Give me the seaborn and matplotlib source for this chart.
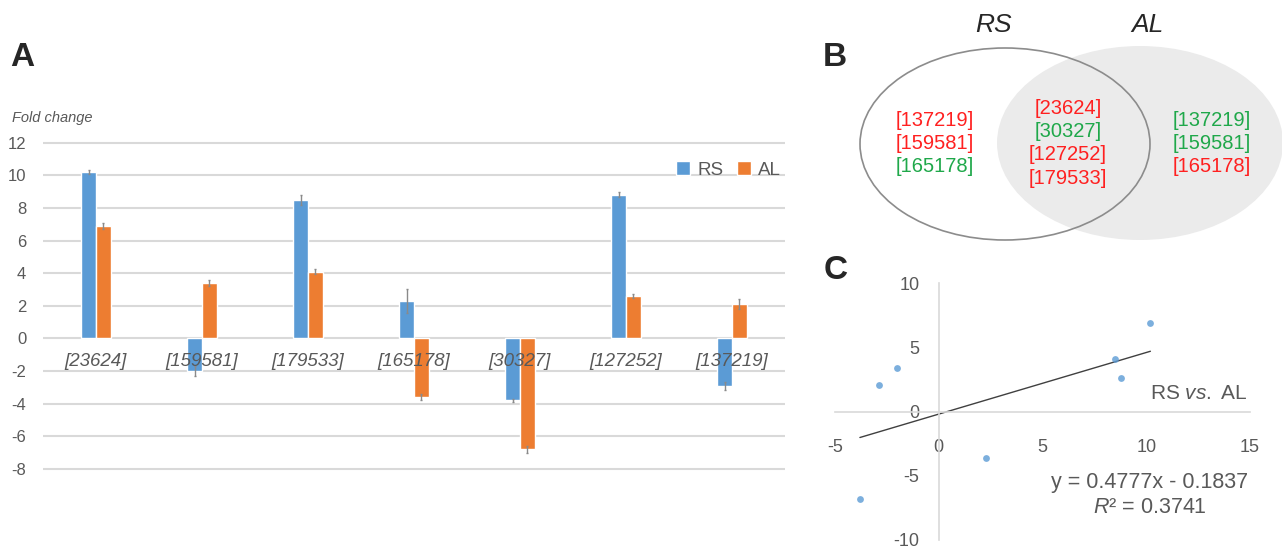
import numpy as np
import pandas as pd
import matplotlib
matplotlib.use("Agg")
import matplotlib.pyplot as plt
import seaborn as sns
from matplotlib.patches import Ellipse

# ---------------- data ----------------
genes = ["[23624]", "[159581]", "[179533]", "[165178]", "[30327]", "[127252]", "[137219]"]
series = ["RS", "AL"]
rs_fc = [10.2, -2.0, 8.5, 2.3, -3.8, 8.8, -2.9]
al_fc = [6.9, 3.4, 4.1, -3.6, -6.8, 2.6, 2.1]
rs_err = [0.1, 0.3, 0.3, 0.75, 0.1, 0.15, 0.25]
al_err = [0.2, 0.2, 0.15, 0.2, 0.2, 0.1, 0.3]
a_yticks = [-8, -6, -4, -2, 0, 2, 4, 6, 8, 10, 12]

venn_rs_only = ["[137219]", "[159581]", "[165178]"]
venn_rs_only_col = ["red", "red", "green"]
venn_both = ["[23624]", "[30327]", "[127252]", "[179533]"]
venn_both_col = ["red", "green", "red", "red"]
venn_al_only = ["[137219]", "[159581]", "[165178]"]
venn_al_only_col = ["green", "green", "red"]

c_xticks = [-5, 0, 5, 10, 15]
c_yticks = [-10, -5, 0, 5, 10]
fit_text = "y = 0.4777x - 0.1837"
r2_text = r"$\mathit{R}$² = 0.3741"

# ---------------- style ----------------
sns.set_theme(style="white")
plt.rcParams["font.family"] = ["Liberation Sans", "DejaVu Sans"]
plt.rcParams["mathtext.fontset"] = "custom"
plt.rcParams["mathtext.rm"] = "Liberation Sans"
plt.rcParams["mathtext.it"] = "Liberation Sans:italic"

BLUE = "#5b9bd5"
ORANGE = "#ed7d31"
GRAY = "#595959"
GRID = "#d9d9d9"
RED = "#ff2020"
GREEN = "#1fa84a"
cmap = {"red": RED, "green": GREEN}

W, H = 1282, 550
fig = plt.figure(figsize=(W / 100, H / 100), dpi=100)

def fx(px):
    return px / W

def fy(py):
    return 1 - py / H

# ---------------- panel A ----------------
ax = fig.add_axes([fx(43), (H - 472.3) / H, (785 - 43) / W, 333 / H])
df = pd.DataFrame({
    "gene": genes * 2,
    "series": [series[0]] * len(genes) + [series[1]] * len(genes),
    "fc": rs_fc + al_fc,
})
sns.barplot(data=df, x="gene", y="fc", hue="series", order=genes, hue_order=series,
            palette=[BLUE, ORANGE], width=0.28, errorbar=None, saturation=1, ax=ax,
            zorder=2)
for cont, vals, errs in zip(ax.containers, [rs_fc, al_fc], [rs_err, al_err]):
    for bar, v, e in zip(cont, vals, errs):
        ax.errorbar(bar.get_x() + bar.get_width() / 2, v, yerr=e, fmt="none",
                    ecolor="#8a8a8a", elinewidth=1, capsize=1, capthick=1, zorder=3)
ax.set_xlim(-0.5, 6.5)
ax.set_ylim(-8.2, 12.2)
ax.set_yticks(a_yticks)
ax.set_yticklabels([str(t) for t in a_yticks])
ax.set_xticks([])
ax.set_xlabel("")
ax.set_ylabel("")
ax.yaxis.grid(True, color=GRID, lw=1.5)
ax.set_axisbelow(True)
for s in ax.spines.values():
    s.set_visible(False)
ax.tick_params(axis="y", length=0, pad=12, labelsize=12, labelcolor=GRAY)
for i, g in enumerate(genes):
    ax.text(i, -1.4, g, ha="center", va="center", fontsize=13.5, style="italic",
            color=GRAY, zorder=4)
handles, labels = ax.get_legend_handles_labels()
leg = ax.legend(handles, labels, ncol=2, frameon=False, loc="center right",
                bbox_to_anchor=(1.005, 0.908), handlelength=0.75, handleheight=0.75,
                handletextpad=0.4, columnspacing=0.7, fontsize=13.5, borderaxespad=0)
for t in leg.get_texts():
    t.set_color(GRAY)

fig.text(fx(12), fy(118), "Fold change", fontsize=10.5, style="italic", color=GRAY,
         ha="left", va="center")
fig.text(fx(22), fy(58), "A", fontsize=24, fontweight="bold", ha="center", va="center")

# ---------------- panel B ----------------
axb = fig.add_axes([fx(820), 1 - 250 / H, 462 / W, 250 / H])
axb.set_xlim(820, 1282)
axb.set_ylim(250, 0)
axb.axis("off")
axb.add_patch(Ellipse((1140, 143), 286, 194, fc="#ebebeb", ec="none", clip_on=False))
axb.add_patch(Ellipse((1005, 144), 290, 192, fc="none", ec="#8c8c8c", lw=1.2,
                      clip_on=False))
axb.text(993, 25, "RS", fontsize=19, style="italic", ha="center", va="center")
axb.text(1147, 25, "AL", fontsize=19, style="italic", ha="center", va="center")
for i, (t, c) in enumerate(zip(venn_rs_only, venn_rs_only_col)):
    axb.text(935, 120 + i * 23.5, t, color=cmap[c], fontsize=14.5, ha="center", va="center")
for i, (t, c) in enumerate(zip(venn_both, venn_both_col)):
    axb.text(1068, 108 + i * 23.5, t, color=cmap[c], fontsize=14.5, ha="center", va="center")
for i, (t, c) in enumerate(zip(venn_al_only, venn_al_only_col)):
    axb.text(1212, 120 + i * 23.5, t, color=cmap[c], fontsize=14.5, ha="center", va="center")
fig.text(fx(835), fy(58), "B", fontsize=24, fontweight="bold", ha="center", va="center")

# ---------------- panel C ----------------
axc = fig.add_axes([fx(835), (H - 540) / H, (1250 - 835) / W, (540 - 283) / H])
sns.regplot(x=np.array(rs_fc), y=np.array(al_fc), ci=None, ax=axc, color=BLUE,
            scatter_kws=dict(s=24, linewidths=0, zorder=3),
            line_kws=dict(color="#404040", lw=1, zorder=2))
axc.set_xlim(-5, 15)
axc.set_ylim(-10, 10)
axc.set_xticks(c_xticks)
axc.set_yticks(c_yticks)
axc.set_xticklabels([str(t) for t in c_xticks])
axc.set_yticklabels([str(t) for t in c_yticks])
for side in ["top", "right"]:
    axc.spines[side].set_visible(False)
for side in ["left", "bottom"]:
    axc.spines[side].set_position(("data", 0))
    axc.spines[side].set_color(GRID)
    axc.spines[side].set_linewidth(1.2)
axc.tick_params(axis="x", length=0, pad=20, labelsize=13, labelcolor=GRAY)
axc.tick_params(axis="y", length=0, pad=14, labelsize=13, labelcolor=GRAY)
axc.set_xlabel("")
axc.set_ylabel("")
axc.text(14.9, 1.4, r"RS $\mathit{vs.}$ AL", fontsize=15, color=GRAY, ha="right",
         va="center")
axc.text(14.9, -5.5, fit_text, fontsize=15.5, color=GRAY, ha="right", va="center")
axc.text(10.2, -7.5, r2_text, fontsize=15.5, color=GRAY, ha="center", va="center")
fig.text(fx(836), fy(270), "C", fontsize=24, fontweight="bold", ha="center", va="center")

fig.savefig("out.png", dpi=100)
